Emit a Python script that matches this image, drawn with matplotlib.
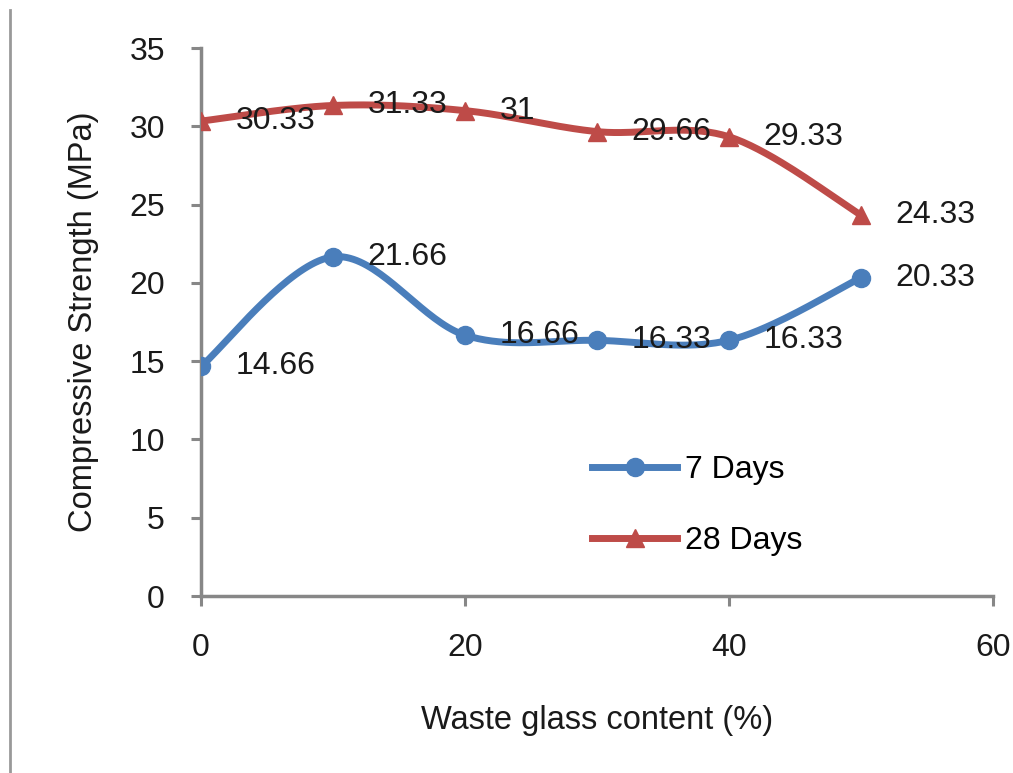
import numpy as np
import matplotlib
matplotlib.use("Agg")
import matplotlib.pyplot as plt
from matplotlib.lines import Line2D

# Data
glass_content = [0, 10, 20, 30, 40, 50]
strength_7d = [14.66, 21.66, 16.66, 16.33, 16.33, 20.33]
strength_28d = [30.33, 31.33, 31, 29.66, 29.33, 24.33]
label_7d = ["14.66", "21.66", "16.66", "16.33", "16.33", "20.33"]
label_28d = ["30.33", "31.33", "31", "29.66", "29.33", "24.33"]
x_ticks = [0, 20, 40, 60]
y_ticks = [0, 5, 10, 15, 20, 25, 30, 35]

plt.rcParams['font.family'] = ['Liberation Sans', 'DejaVu Sans']

BLUE = "#4A7EBB"
RED = "#BE4B48"
GRAY = "#878787"
FS = 23
LW = 5


def smooth(x, y, n=40):
    """Cubic Bezier smoothing through every point (Catmull-Rom tangents)."""
    x = np.asarray(x, float)
    y = np.asarray(y, float)
    P = np.column_stack([x, y])
    Pe = np.vstack([P[0], P, P[-1]])
    out = []
    t = np.linspace(0, 1, n)[:, None]
    for i in range(len(P) - 1):
        p0, p3 = Pe[i + 1], Pe[i + 2]
        c1 = p0 + (Pe[i + 2] - Pe[i]) / 6.0
        c2 = p3 - (Pe[i + 3] - Pe[i + 1]) / 6.0
        seg = ((1 - t) ** 3) * p0 + 3 * ((1 - t) ** 2) * t * c1 + 3 * (1 - t) * t ** 2 * c2 + t ** 3 * p3
        out.append(seg if i == 0 else seg[1:])
    out = np.vstack(out)
    return out[:, 0], out[:, 1]


fig = plt.figure(figsize=(10.13, 7.73), dpi=100)
ax = fig.add_axes([201 / 1013, 1 - 596 / 773, 792 / 1013, 548 / 773])

for yv, lab, col, mk, ms in [
    (strength_7d, label_7d, BLUE, "o", 13),
    (strength_28d, label_28d, RED, "^", 13),
]:
    sx, sy = smooth(glass_content, yv)
    ax.plot(sx, sy, color=col, lw=LW, solid_capstyle="round", zorder=3)
    ax.plot(glass_content, yv, linestyle="none", marker=mk, ms=ms, color=col, zorder=4)
    for xv, v, s in zip(glass_content, yv, lab):
        ax.annotate(s, (xv, v), xytext=(25, 0), textcoords="offset points",
                    ha="left", va="center", fontsize=FS, color="#1a1a1a", zorder=5)

ax.set_xlim(0, 60)
ax.set_ylim(0, 35)
ax.set_xticks(x_ticks)
ax.set_yticks(y_ticks)
ax.tick_params(axis="both", direction="out", length=7, width=2.2, color=GRAY,
               labelsize=FS, labelcolor="#1a1a1a")
ax.tick_params(axis="y", pad=19)
ax.tick_params(axis="x", pad=20)
for side in ["top", "right"]:
    ax.spines[side].set_visible(False)
for side in ["left", "bottom"]:
    ax.spines[side].set_color(GRAY)
    ax.spines[side].set_linewidth(2.5)

ax.set_xlabel("Waste glass content (%)", fontsize=23.5, labelpad=30, color="#1a1a1a")
ax.set_ylabel("Compressive Strength (MPa)", fontsize=23.5, labelpad=22, color="#1a1a1a")

handles = [
    Line2D([], [], color=BLUE, lw=LW, marker="o", ms=13),
    Line2D([], [], color=RED, lw=LW, marker="^", ms=13),
]
ax.legend(handles, ["7 Days", "28 Days"], loc="upper left",
          bbox_to_anchor=(0.458, 0.31), frameon=False, fontsize=FS,
          handlelength=2.65, handletextpad=0.25, labelspacing=1.3)

# thin frame line down the left edge of the figure
fig.add_artist(Line2D([10 / 1013, 10 / 1013], [0, 1 - 10 / 773],
                      transform=fig.transFigure, color="#999999", lw=2))

fig.savefig("out.png", dpi=100)
